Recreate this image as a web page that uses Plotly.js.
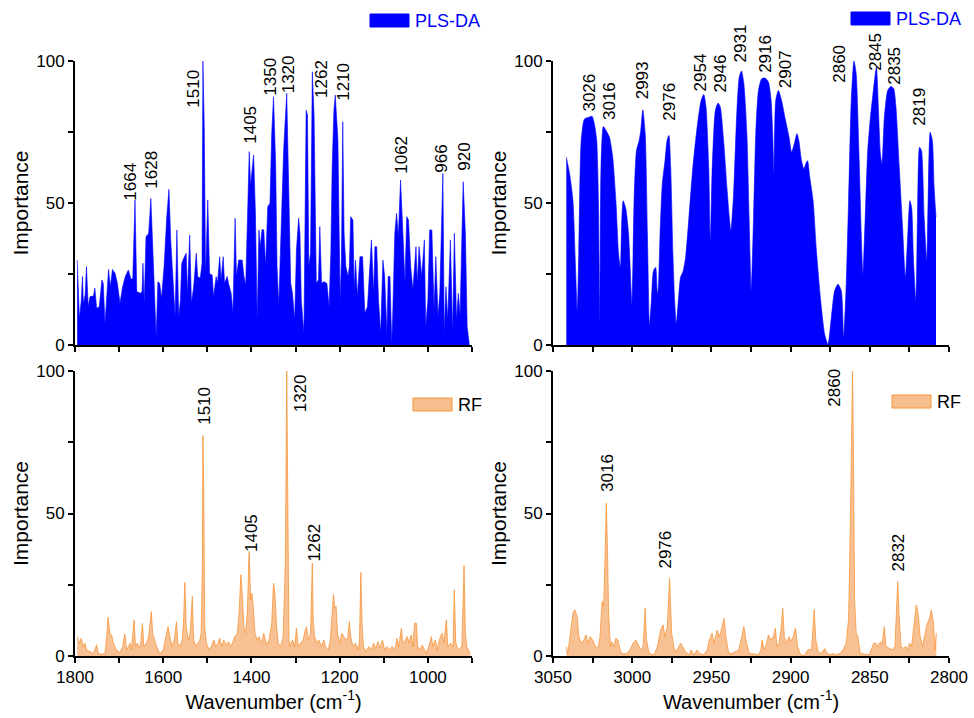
<!DOCTYPE html>
<html>
<head>
<meta charset="utf-8">
<script src="https://cdn.plot.ly/plotly-3.0.1.min.js"></script>
<style>html,body{margin:0;padding:0;background:#fff;}#chart{width:974px;height:718px;}</style>
</head>
<body>
<div id="chart"></div>
<script>
// ---------------- DATA ----------------
// Fingerprint region (1800-900 cm-1), PLS-DA importance
const plsFpX = [1795,1790,1786,1783,1781,1777,1774,1770,1766,1758,1755,1751,1745,1739,1736,1732,1727,1724,1720,1715,1709,1704,1698,1692,1686,1679,1673,1669,1664,1660,1652,1648,1646,1643,1639,1633,1628,1623,1620,1616,1612,1608,1604,1598,1592,1587,1583,1576,1573,1569,1565,1561,1558,1552,1548,1545,1540,1536,1531,1525,1522,1516,1512,1510,1507,1504,1499,1495,1489,1486,1480,1477,1472,1469,1464,1461,1455,1452,1446,1442,1437,1434,1429,1421,1417,1413,1408,1405,1402,1399,1395,1391,1387,1383,1380,1376,1372,1368,1363,1358,1354,1350,1345,1342,1338,1333,1327,1320,1317,1311,1307,1302,1298,1293,1290,1287,1281,1276,1273,1270,1266,1262,1258,1253,1248,1245,1241,1236,1229,1224,1220,1217,1213,1210,1204,1199,1196,1193,1190,1186,1181,1178,1175,1170,1167,1164,1160,1154,1148,1143,1137,1131,1128,1123,1120,1116,1112,1107,1102,1098,1093,1090,1086,1082,1080,1075,1071,1067,1062,1056,1052,1048,1044,1039,1034,1027,1024,1020,1014,1008,1005,1000,996,991,986,982,977,973,966,963,959,955,949,944,940,935,931,927,923,920,915,911,906];
const plsFpY = [29.9,9.4,15.3,24.1,14.7,17.6,27.6,13.5,17.0,17.3,20.0,12.9,13.5,22.9,21.7,7.6,19.4,26.6,20.5,26.6,25.2,21.7,14.7,20.5,24.1,26.4,23.1,23.5,51.1,18.8,18.2,18.8,28.8,14.7,38.1,39.3,51.6,29.9,15.8,2.9,22.3,21.7,16.4,27.6,45.2,54.8,37.0,18.2,10.0,40.5,10.0,15.8,28.8,31.1,32.3,18.2,38.7,14.7,20.5,32.3,24.1,23.5,28.8,100,76.9,24.1,51.1,25.2,24.6,17.0,24.1,21.7,31.1,22.9,31.1,21.7,24.1,21.7,18.2,11.2,44.6,24.1,29.9,29.9,24.1,21.1,55.8,68.1,56.3,60.4,66.9,46.4,8.8,40.5,34.6,40.7,40.5,27.6,48.7,49.9,74.5,87.4,62.8,27.6,14.1,39.3,68.7,88.6,68.7,21.7,18.2,8.8,33.5,44.6,39.3,15.8,4.1,82.7,81.0,27.6,32.3,96.2,80.4,21.7,22.9,41.7,21.7,22.3,21.7,13.5,32.3,62.8,82.7,88.0,72.2,15.8,29.9,78.6,39.3,27.6,24.1,27.6,45.2,44.0,19.4,29.9,17.0,31.1,31.1,11.2,13.5,29.9,37.0,18.2,34.6,34.6,15.8,4.1,29.9,24.1,4.1,24.1,24.1,0.6,8.8,39.3,46.4,38.1,58.1,37.0,21.7,45.2,44.0,27.6,19.4,34.6,21.7,34.6,24.1,37.0,6.5,15.8,40.5,40.5,12.3,31.1,10.0,18.2,60.4,4.1,20.5,8.8,37.0,4.1,39.3,8.8,18.2,10.6,42.8,57.5,39.3,6.5,0];

// Fingerprint region, RF importance
const rfFpX = [1795,1790,1786,1781,1777,1774,1766,1758,1751,1747,1740,1732,1728,1725,1721,1717,1713,1706,1698,1692,1687,1683,1675,1672,1666,1663,1659,1654,1651,1647,1644,1638,1633,1630,1627,1624,1620,1615,1608,1600,1594,1589,1585,1580,1575,1570,1567,1562,1557,1554,1551,1548,1543,1539,1534,1531,1526,1521,1517,1514,1511,1510,1508,1506,1502,1496,1491,1485,1481,1476,1472,1467,1463,1457,1452,1448,1443,1438,1432,1428,1424,1421,1417,1413,1409,1406,1405,1402,1399,1396,1392,1387,1383,1377,1372,1366,1360,1354,1350,1347,1343,1339,1334,1328,1323,1320,1317.5,1315,1313,1307,1302,1298,1294,1289,1283,1278,1275,1271,1266,1262,1260,1257,1251,1247,1241,1236,1232,1226,1221,1217,1214,1211,1208,1205,1200,1195,1191,1186,1182,1178,1175,1170,1164,1158,1155,1152,1149,1146,1140,1134,1128,1123,1118,1113,1108,1103,1098,1093,1087,1081,1075,1070,1066,1060,1057,1051,1047,1043,1038,1034,1030,1026,1023,1017,1013,1008,1004,998,992,989,983,979,974,968,964,958,955,949,943,940,937,932,928,923,918,915,912,907,904];
const rfFpY = [6.8,4.5,6.2,3.3,4.5,2.1,1.5,0.9,3.9,0.9,0.6,0.9,6.8,13.6,8,7.4,4.5,2.1,1.2,3.3,7.7,2.1,4.5,2.1,12.7,3.3,4.5,2.7,4.5,11.5,3.3,4.5,6.8,10.3,15.6,8,5.6,3.3,0.9,2.1,6.8,10.3,6.8,3.3,5.6,12.1,4.5,3.3,5.6,11.5,25.8,10.3,5.6,8,20.9,5.6,3.3,4.5,5.6,8,33.8,77.4,57.2,10.3,4.5,2.1,3.3,5.6,3.3,4.5,6.2,3.3,5.6,3.9,5,3.3,4.5,6.8,8,15,28.5,22,10.3,8,16.2,33.8,36.7,19.7,22,17.4,8,5.6,6.8,4.5,8,3.9,5.6,11.5,25.6,22,10.3,4.5,3.3,6.8,33.8,100,33.8,5.6,3.3,5.6,3.3,9.7,3.3,4.5,5.6,9.1,10.3,5.6,8,32.6,12.7,6.8,4.5,5.6,3.3,5.6,3.3,2.1,5.6,15,21.5,16.8,17.4,8,4.5,8,6.8,5.6,6.2,12.1,6.8,3.3,4.5,2.1,5.6,29.3,10.3,3.3,1.5,3.3,2.1,4.5,2.7,5,2.7,5.6,2.1,3.3,2.1,3.3,2.1,6.2,3.3,9.7,4.5,5.6,6.8,4.5,7.4,3.3,11.5,11.5,3.3,2.1,3.9,2.1,0.9,3.3,6.8,3.3,5.6,2.1,5.6,8,4.5,12.7,3.3,4.5,3.3,23.2,5,2.1,2.7,3.3,31.7,8,3.3,2.1,0.9];

// High-wavenumber region (3050-2800 cm-1), PLS-DA importance
const plsHwX = [3041.6,3039.5,3037.4,3035.8,3034.7,3033.7,3032.2,3030.1,3027.4,3025.3,3023.9,3022.4,3021.3,3020.5,3019.7,3018.2,3016.5,3014.4,3012.3,3010.3,3008.6,3007.5,3006.5,3005.7,3004,3002.3,3001.3,3000.2,2998.7,2997.3,2995.6,2994.6,2993.3,2991.8,2990.4,2989.1,2987.9,2986.6,2985.2,2984.1,2983.5,2982.4,2981,2979.3,2978,2976.8,2975.7,2974.3,2973.2,2972.2,2970.9,2969.5,2967.8,2966.3,2964.2,2961.7,2959,2956.5,2954.8,2953.4,2951.7,2950.6,2949.6,2947.5,2945.8,2944.4,2942.3,2940.2,2938.7,2937.7,2936,2933.9,2932.4,2931,2929.5,2927.6,2926.2,2924.9,2923.4,2922,2920.3,2918.2,2916.1,2914,2912.3,2911.3,2910.5,2909.4,2907.7,2905.7,2903.6,2901,2899.4,2897.7,2896,2894.8,2893.1,2891.6,2890.4,2889.3,2887.9,2885.8,2883.7,2881,2878.5,2876.4,2874.3,2872.2,2870.1,2868,2866.5,2864.9,2863.4,2861.7,2860,2858.6,2856.9,2855.4,2854.4,2852.9,2851.3,2849.6,2847.5,2845.8,2844.6,2843.3,2842.3,2840.8,2838.7,2836.6,2834.9,2833.5,2831.4,2829.3,2827.6,2826.2,2824.7,2823.6,2822.4,2820.9,2819.9,2818.6,2817.4,2815.7,2814,2813.2,2811.9,2810.5,2809.4,2808.2];
const plsHwY = [66.1,60.2,50.8,27.3,12,33.2,72,79.6,80.2,80.5,77.9,72,50.8,7.9,62.6,76.9,75.5,73.2,66.1,50.8,32,27.3,44.9,50.8,47.9,39.1,27.3,14.4,53.2,68.5,72,75.5,82.8,74.4,39.1,6.7,15.5,26.1,27.3,17.9,20.2,39.1,56.7,64.9,72,73.8,62.6,32,15.5,7.5,15.5,23.8,26.1,30.8,44.9,62.6,76.7,86.1,88.2,83.8,62.6,36.7,60.2,82.6,85.2,83.8,72,55.5,44.9,40.2,53.2,82.6,94.4,96.5,92,74.4,44.9,19.1,44.9,74.4,89.6,93.8,94,92.6,86.1,74.4,60.2,86.1,89.6,86.1,80.2,73.2,67.9,70.8,74.4,72,64.9,62,63.8,64.9,59.1,50.8,33.2,15.5,3.8,0.2,9.6,19.1,21.4,19.1,2.6,21.4,50.8,86.1,100,95.5,68.5,39.1,24.9,44.9,68.5,80.2,90.8,97.9,83.8,67.3,63.8,80.2,89.6,91.1,90.2,83.8,62.6,41.4,23.8,36.7,50.8,48.5,29.6,15.5,44.9,69.6,68.5,44.9,29.6,50.8,74.9,72,55.5,45];

// High-wavenumber region, RF importance
const rfHwX = [3041.6,3040.6,3038.5,3037.4,3036.2,3034.7,3033.7,3032.2,3030.5,3029.1,3027.8,3026.6,3024.9,3023.2,3021.5,3020.3,3019,3018,3017.2,3016.3,3015.5,3014.9,3013.8,3012.8,3011.7,3010.3,3009,3007.7,3006.1,3003.6,3001.5,2999.4,2997.7,2996,2994.6,2993.1,2991.8,2991,2989.3,2986.2,2984.1,2982,2980.5,2979.3,2977.8,2976.4,2975.1,2973.6,2972.2,2969.5,2968,2966.3,2964.2,2962.8,2961.1,2959,2957.5,2954.8,2952.7,2951.3,2949.6,2948.3,2946.4,2945,2943.7,2942.1,2940.8,2939.1,2937,2932.8,2930.8,2929.5,2928.2,2926.2,2922.4,2920.3,2918.8,2918,2916.7,2915.1,2914,2912.6,2910.9,2909.6,2908.6,2907.3,2906.1,2905,2904,2902.5,2901,2900,2898.3,2896.9,2895.6,2893.7,2891.4,2888.9,2886.8,2885.1,2884.1,2882.6,2880.5,2878.5,2876.8,2875.3,2873.2,2871.1,2869,2866.9,2864.9,2863.4,2862.3,2861.5,2860.9,2860.3,2859.6,2858.6,2857.5,2856.1,2853.4,2850.2,2849.2,2847.5,2846,2845,2843.3,2842.3,2840.8,2839.8,2837.7,2835.6,2834.1,2833.3,2832.4,2831.6,2830.3,2828.7,2827.2,2826.2,2824.9,2823.6,2822,2820.7,2819.5,2818.2,2816.7,2815.3,2814,2812.6,2811.1,2809.8,2808.8,2808];
const rfHwY = [3.3,0.9,10.3,15,16.2,13.8,6.8,4.5,5.6,7.4,4.5,6.8,5.6,3.3,2.7,6.8,19.1,17.4,33.8,53.7,33.8,15,3.3,5,3.3,6.2,5.6,2.1,0.7,0.9,2.1,4.5,5.6,3.9,2.1,3.3,16.8,5.6,0.9,0.4,3.3,9.1,10.9,6.8,10.3,27.3,8,2.7,1.5,4.5,3.3,1.5,0.4,2.1,0.4,2.1,0.9,0.4,2.1,5.6,8,4.5,9.1,6.8,9.1,13.2,6.8,0.9,0.9,2.1,6.8,10.3,5.6,0.9,0.7,0.4,2.1,5.6,2.1,4.5,7.4,5.6,6.8,9.7,3.3,4.5,9.1,16.8,6.8,4.5,6.8,5,6.8,9.7,3.3,0.4,0.1,2.3,2.1,16.2,5.6,1.5,0.9,2.6,0.9,0.4,0.9,0.4,0.9,2.1,4.5,12.7,45.5,91.2,100,68.9,19.7,8,6.8,0.9,0.7,0.4,2.1,4.5,4.5,3.3,5,3.9,10.3,3.3,2.7,2.1,3.3,15,26.1,15,3.3,2.7,3.3,2.1,4.5,3.3,10.3,17.9,15,6.8,3.3,6.8,10.9,12.7,16.2,11.5,2.1,8];

// Peak labels (text)
const plsFpLabels = ['1664','1628','1510','1405','1350','1320','1262','1210','1062','966','920'];
const plsHwLabels = ['3026','3016','2993','2976','2954','2946','2931','2916','2907','2860','2845','2835','2819'];
const rfFpLabels  = ['1510','1405','1320','1262'];
const rfHwLabels  = ['3016','2976','2860','2832'];
const seriesNames = ['PLS-DA','RF'];
const xTitle = 'Wavenumber (cm<sup>-1</sup>)';
const yTitle = 'Importance';

// ---------------- LAYOUT / STYLE ----------------
// label anchor positions [x (data), y (data)] for bottom-centre of the rotated text
const plsFpLabelPos = [[1675,50.5],[1626,54.6],[1532,83.3],[1404,70.4],[1356,87.4],[1314,88.4],[1241,86.5],[1192,85.7],[1059,59.9],[971,60.2],[916,61]];
const plsHwLabelPos = [[3027,82],[3014.4,79],[2993.3,86.1],[2977,78.5],[2956.3,89.1],[2944.1,88.5],[2931.4,99.1],[2915.5,95.5],[2903.3,90.2],[2868.8,92],[2846.9,96.1],[2834.5,91.4],[2818.6,76.7]];
const rfFpLabelPos = [[1508,80.7],[1400,36.3],[1289,85.3],[1257,32.6]];
const rfHwLabelPos = [[3015.3,57.2],[2978.9,30.2],[2872,87.1],[2832.2,29.3]];

const W = 974, H = 718;
const FONT = 'Liberation Sans, Arial, sans-serif';
const BLUE = '#0000FF';
const ORANGE_FILL = 'rgba(245,160,90,0.65)';
const ORANGE_LINE = '#F7963A';

const xL = [75/W, 472/W], xR = [553/W, 949/W];
const yT = [1-345/H, 1-61/H], yB = [1-656/H, 1-371/H];

function axisBase(){
  return {showline:true, linecolor:'#000', linewidth:2, ticks:'outside', ticklen:5, tickwidth:2,
    tickcolor:'#000', showgrid:false, zeroline:false, mirror:false,
    tickfont:{family:FONT, size:17, color:'#000'}};
}
function xAxis(dom, anchor, range, t0, dt, mdt, showLabels){
  const a = axisBase();
  Object.assign(a, {domain:dom, anchor:anchor, range:range, autorange:false, tickmode:'linear',
    tick0:t0, dtick:dt, showticklabels:showLabels,
    minor:{tick0:t0, dtick:mdt, ticks:'outside', ticklen:5, tickwidth:2, tickcolor:'#000', showgrid:false}});
  if (showLabels) a.title = {text:xTitle, font:{family:FONT, size:20, color:'#000'}, standoff:4};
  return a;
}
function yAxis(dom, anchor){
  const a = axisBase();
  Object.assign(a, {domain:dom, anchor:anchor, range:[0,100], autorange:false, tickmode:'linear',
    tick0:0, dtick:50,
    minor:{tick0:0, dtick:25, ticks:'outside', ticklen:5, tickwidth:2, tickcolor:'#000', showgrid:false},
    title:{text:yTitle, font:{family:FONT, size:21, color:'#000'}, standoff:2}});
  return a;
}

const traces = [
  {x:plsFpX, y:plsFpY, xaxis:'x', yaxis:'y', name:seriesNames[0], type:'scatter', mode:'lines', fill:'tozeroy',
   fillcolor:BLUE, line:{color:BLUE, width:0.6}, showlegend:false},
  {x:plsHwX, y:plsHwY, xaxis:'x2', yaxis:'y2', name:seriesNames[0], type:'scatter', mode:'lines', fill:'tozeroy',
   fillcolor:BLUE, line:{color:BLUE, width:0.6, shape:'spline', smoothing:0.6}, showlegend:false},
  {x:rfFpX, y:rfFpY, xaxis:'x3', yaxis:'y3', name:seriesNames[1], type:'scatter', mode:'lines', fill:'tozeroy',
   fillcolor:ORANGE_FILL, line:{color:ORANGE_LINE, width:0.8}, showlegend:false},
  {x:rfHwX, y:rfHwY, xaxis:'x4', yaxis:'y4', name:seriesNames[1], type:'scatter', mode:'lines', fill:'tozeroy',
   fillcolor:ORANGE_FILL, line:{color:ORANGE_LINE, width:0.8}, showlegend:false}
];

const annotations = [];
function addLabels(texts, pos, xr, yr){
  texts.forEach((t,i)=>{
    annotations.push({text:t, x:pos[i][0], y:pos[i][1], xref:xr, yref:yr, textangle:-90,
      xanchor:'center', yanchor:'bottom', showarrow:false, borderpad:0,
      font:{family:FONT, size:17, color:'#000'}});
  });
}
addLabels(plsFpLabels, plsFpLabelPos, 'x', 'y');
addLabels(plsHwLabels, plsHwLabelPos, 'x2', 'y2');
addLabels(rfFpLabels, rfFpLabelPos, 'x3', 'y3');
addLabels(rfHwLabels, rfHwLabelPos, 'x4', 'y4');

// legends (swatch + text), positioned in pixels
const shapes = [];
function legend(name, x0, x1, y0, y1, fill, line, textColor){
  shapes.push({type:'rect', xref:'paper', yref:'paper', x0:x0/W, x1:x1/W, y0:1-y1/H, y1:1-y0/H,
    fillcolor:fill, line:{color:line, width:1}});
  annotations.push({text:name, xref:'paper', yref:'paper', x:(x1+5)/W, y:1-((y0+y1)/2)/H,
    xanchor:'left', yanchor:'middle', showarrow:false, borderpad:0,
    font:{family:FONT, size:18, color:textColor}});
}
legend(seriesNames[0], 370, 409, 14, 27, BLUE, BLUE, BLUE);
legend(seriesNames[0], 851, 890, 12, 25, BLUE, BLUE, BLUE);
legend(seriesNames[1], 413, 452, 398, 411, '#F7BE8E', '#F7963A', '#000');
legend(seriesNames[1], 892, 931, 395, 408, '#F7BE8E', '#F7963A', '#000');

const layout = {
  width:W, height:H, margin:{l:0, r:0, t:0, b:0}, paper_bgcolor:'#fff', plot_bgcolor:'#fff',
  showlegend:false, font:{family:FONT, color:'#000'},
  xaxis:  xAxis(xL, 'y',  [1800,900], 1800, 200, 100, false),
  yaxis:  yAxis(yT, 'x'),
  xaxis2: xAxis(xR, 'y2', [3050,2800], 3050, 50, 25, false),
  yaxis2: yAxis(yT, 'x2'),
  xaxis3: xAxis(xL, 'y3', [1800,900], 1800, 200, 100, true),
  yaxis3: yAxis(yB, 'x3'),
  xaxis4: xAxis(xR, 'y4', [3050,2800], 3050, 50, 25, true),
  yaxis4: yAxis(yB, 'x4'),
  annotations: annotations, shapes: shapes
};

Plotly.newPlot('chart', traces, layout, {displayModeBar:false, staticPlot:true});
</script>
</body>
</html>
